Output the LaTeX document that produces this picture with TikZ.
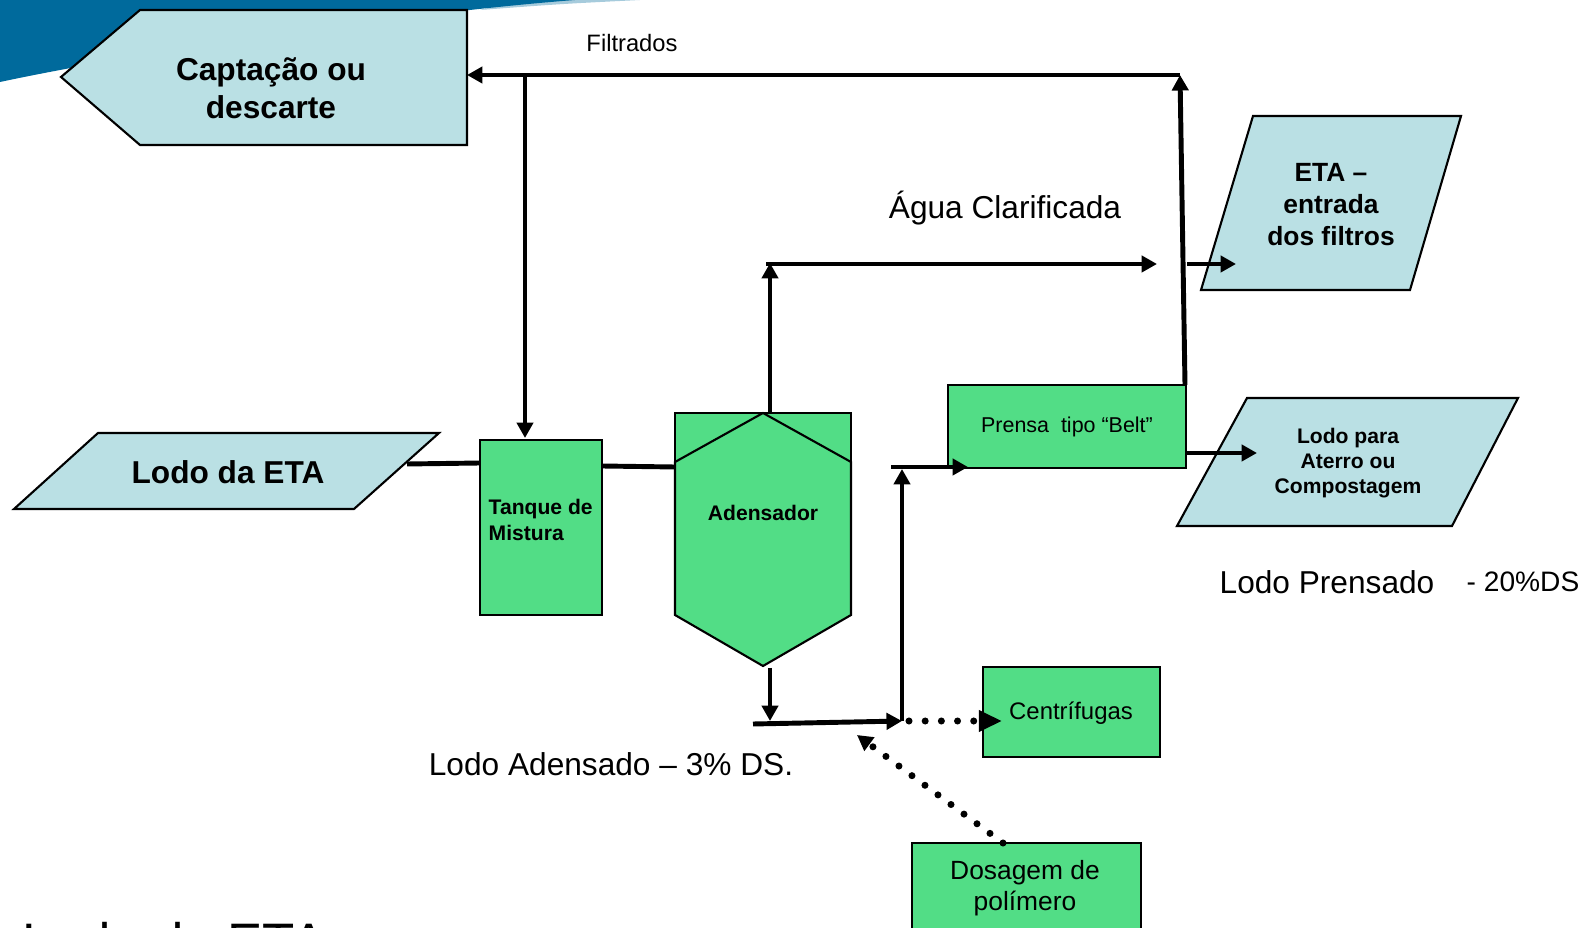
\documentclass[tikz,border=0pt]{standalone}
\usepackage{fontspec}
\setmainfont{Liberation Sans}
\usepackage{tikz}
\usetikzlibrary{arrows.meta}
\definecolor{greenblock}{RGB}{82, 221, 134}
\definecolor{blueblock}{RGB}{186, 224, 228}
\definecolor{swooshblue}{RGB}{0, 106, 156}

\begin{document}
\begin{tikzpicture}[x=0.01cm, y=-0.01cm,
		flow/.style={line width=1.4pt},
		arr/.style={-{Triangle[length=4.4pt, width=4.6pt]}},
		bigarr/.style={-{Triangle[length=6.6pt, width=5.8pt]}},
		dotflow/.style={line width=2pt, line cap=round, dash pattern=on 0pt off 4.6pt},
		border/.style={black, line width=0.6pt},
		lbl/.style={inner sep=0pt, align=center}]
		\useasboundingbox (0,0) rectangle (1591,928);
		\clip (0,0) rectangle (1591,928);

		% slide background
		\fill[swooshblue!35] (520,0) -- (640,0) .. controls (560,4) .. (480,10) -- cycle;
		\fill[swooshblue] (0,0) -- (575,0) .. controls (420,12) and (160,48) .. (0,82) -- cycle;
		\node[anchor=base west, font=\fontsize{15}{18}\selectfont] (title) at (10,960) {Lodo da ETA};

		% blocks
		\fill[blueblock] (61,77) -- (140,10) -- (467,10) -- (467,145) -- (140,145) -- cycle;
		\draw[border] (61,77) -- (140,10) -- (467,10) -- (467,145) -- (140,145) -- cycle;
		\node[lbl, font=\bfseries\fontsize{9}{10.8}\selectfont] (captacao) at (271,88) {Captação ou\\descarte};

		\fill[blueblock] (98,433) -- (439,433) -- (354,509) -- (14,509) -- cycle;
		\draw[border] (98,433) -- (439,433) -- (354,509) -- (14,509) -- cycle;
		\node[lbl, font=\bfseries\fontsize{9}{10.8}\selectfont] (lodoeta) at (228,472) {Lodo da ETA};

		\fill[greenblock] (480,440) rectangle (602,615);
		\draw[border] (480,440) rectangle (602,615);
		\node[lbl, anchor=west, align=left, font=\bfseries\fontsize{6}{7.4}\selectfont] (tanque) at (488,520) {Tanque de\\Mistura};

		\fill[greenblock] (675,413) rectangle (851,477);
		\draw[border] (675,413) rectangle (851,477);
		\fill[greenblock] (675,462) -- (763,413) -- (851,462) -- (851,615) -- (763,666) -- (675,615) -- cycle;
		\draw[border] (675,462) -- (763,413) -- (851,462) -- (851,615) -- (763,666) -- (675,615) -- cycle;
		\node[lbl, font=\bfseries\fontsize{6}{7.2}\selectfont] (adensador) at (763,513) {Adensador};

		\fill[greenblock] (948,385) rectangle (1186,468);
		\draw[border] (948,385) rectangle (1186,468);
		\node[lbl, font=\fontsize{6.1}{7.3}\selectfont] (prensa) at (1067,427) {Prensa\ \ tipo “Belt”};

		\fill[blueblock] (1253,116) -- (1461,116) -- (1410,290) -- (1201,290) -- cycle;
		\draw[border] (1253,116) -- (1461,116) -- (1410,290) -- (1201,290) -- cycle;
		\node[lbl, font=\bfseries\fontsize{7.5}{9.1}\selectfont] (etafiltros) at (1331,205) {ETA –\\entrada\\dos filtros};

		\fill[blueblock] (1247,398) -- (1518,398) -- (1452,526) -- (1177,526) -- cycle;
		\draw[border] (1247,398) -- (1518,398) -- (1452,526) -- (1177,526) -- cycle;
		\node[lbl, font=\bfseries\fontsize{6}{7.1}\selectfont] (aterro) at (1348,463) {Lodo para\\Aterro ou\\Compostagem};

		\fill[greenblock] (983,667) rectangle (1160,757);
		\draw[border] (983,667) rectangle (1160,757);
		\node[lbl, font=\fontsize{6.8}{8}\selectfont] (centrifugas) at (1071,713) {Centrífugas};

		\fill[greenblock] (912,843) rectangle (1141,940);
		\draw[border] (912,843) rectangle (1141,940);
		\node[lbl, font=\fontsize{7.5}{8.8}\selectfont] (dosagem) at (1025,888) {Dosagem de\\polímero};

		% labels
		\node[lbl, font=\fontsize{6.75}{8}\selectfont] (filtrados) at (632,43) {Filtrados};
		\node[lbl, font=\fontsize{9}{10.8}\selectfont] (agua) at (1005,208) {Água Clarificada};
		\node[lbl, font=\fontsize{9}{10.8}\selectfont] (lodoadens) at (611,764) {Lodo Adensado – 3\% DS.};
		\node[lbl, font=\fontsize{9}{10.8}\selectfont] (lodoprens) at (1327,582) {Lodo Prensado};
		\node[lbl, font=\fontsize{8}{9.6}\selectfont] (ds) at (1523,582) {- 20\%DS};

		% connection points
		\coordinate (captin) at (467,75);
		\coordinate (filtbranch) at (525,75);
		\coordinate (filtcorner) at (1180,75);
		\coordinate (prensatop) at (1185,385);
		\coordinate (tanquetop) at (525,438);
		\coordinate (lodoout) at (407,464);
		\coordinate (tanquein) at (480,463);
		\coordinate (tanqueout) at (602,466);
		\coordinate (adensin) at (675,467);
		\coordinate (adenstop) at (770,413);
		\coordinate (claratop) at (770,263);
		\coordinate (clarastart) at (766,264);
		\coordinate (claraend) at (1157,264);
		\coordinate (etastart) at (1187,264);
		\coordinate (etain) at (1236,264);
		\coordinate (adensbot) at (770,668);
		\coordinate (adensdown) at (770,721);
		\coordinate (adensline) at (753,724);
		\coordinate (junction) at (902,721);
		\coordinate (prensaup) at (902,469);
		\coordinate (prensastart) at (891,467);
		\coordinate (prensain) at (968,467);
		\coordinate (dotstart) at (909,721);
		\coordinate (centin) at (1002,721);
		\coordinate (dosagemtop) at (1003,843);
		\coordinate (dosagemtip) at (857,735);
		\coordinate (prensaout) at (1187,453);
		\coordinate (aterroin) at (1257,453);

		% connectors
		\draw[flow, arr] (prensatop) -- (filtcorner);
		\draw[flow, arr] (filtcorner) -- (captin);
		\draw[flow, arr] (filtbranch) -- (tanquetop);
		\draw[flow] (lodoout) -- (tanquein);
		\draw[flow] (tanqueout) -- (adensin);
		\draw[flow, arr] (adenstop) -- (claratop);
		\draw[flow, arr] (clarastart) -- (claraend);
		\draw[flow, arr] (etastart) -- (etain);
		\draw[flow, arr] (adensbot) -- (adensdown);
		\draw[flow, arr] (adensline) -- (junction);
		\draw[flow, arr] (junction) -- (prensaup);
		\draw[flow, arr] (prensastart) -- (prensain);
		\draw[flow, arr] (prensaout) -- (aterroin);
		\draw[dotflow, bigarr] (dotstart) -- (centin);
		\draw[dotflow, arr] (dosagemtop) -- (dosagemtip);
	\end{tikzpicture}
\end{document}
